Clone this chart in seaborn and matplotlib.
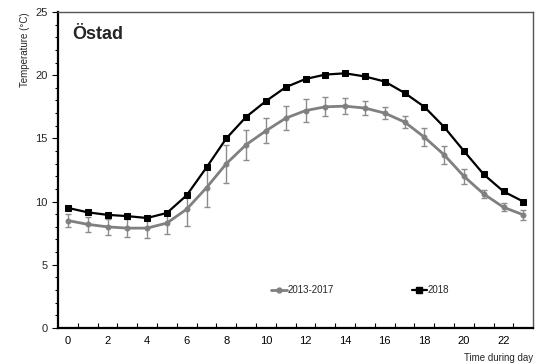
import numpy as np
import pandas as pd
import matplotlib
matplotlib.use("Agg")
import matplotlib.pyplot as plt
import seaborn as sns
from matplotlib.ticker import MultipleLocator, FixedLocator
from matplotlib.lines import Line2D

hours = list(range(24))
mean_2013_2017 = [8.5, 8.2, 8.0, 7.9, 7.9, 8.3, 9.4, 11.1, 13.0, 14.5, 15.6, 16.6,
                  17.2, 17.5, 17.55, 17.4, 17.0, 16.3, 15.1, 13.7, 12.0, 10.6, 9.55, 8.95]
err_2013_2017 = [0.5, 0.6, 0.65, 0.7, 0.75, 0.9, 1.3, 1.5, 1.5, 1.2, 1.0, 0.95,
                 0.9, 0.75, 0.65, 0.55, 0.45, 0.5, 0.7, 0.7, 0.6, 0.3, 0.3, 0.4]
temp_2018 = [9.5, 9.15, 8.95, 8.85, 8.7, 9.1, 10.5, 12.7, 15.0, 16.7, 17.95, 19.05,
             19.7, 20.05, 20.15, 19.9, 19.5, 18.6, 17.5, 15.9, 14.0, 12.15, 10.8, 10.0]
series_labels = ["2013-2017", "2018"]
title = "Östad"

sns.set_style("white")
plt.rcParams['font.family'] = ['Liberation Sans', 'DejaVu Sans']

fig = plt.figure(figsize=(5.37, 3.64), dpi=100)
ax = fig.add_axes([0.108, 0.099, 0.885, 0.868])

ax.errorbar(hours, mean_2013_2017, yerr=err_2013_2017, fmt='none', ecolor='#8c8c8c',
            elinewidth=1.0, capsize=2.5, capthick=1.0, zorder=2)
n_before = len(ax.get_lines())

df_a = pd.DataFrame({"hour": hours, "temp": mean_2013_2017})
df_b = pd.DataFrame({"hour": hours, "temp": temp_2018})
sns.lineplot(data=df_a, x="hour", y="temp", color='#808080', marker='o',
             markersize=3.5, markeredgecolor='#808080', markerfacecolor='#808080',
             linewidth=2.0, ax=ax, zorder=3)
sns.lineplot(data=df_b, x="hour", y="temp", color='#000000', marker='s',
             markersize=4.5, markeredgecolor='#000000', markerfacecolor='#000000',
             linewidth=1.6, ax=ax, zorder=4)

handles = [Line2D([], [], color='#808080', lw=2.0, marker='o', ms=3.5),
           Line2D([], [], color='#000000', lw=1.6, marker='s', ms=4.5)]
ax.legend(handles, series_labels, ncol=2, loc='center', bbox_to_anchor=(0.636, 0.12),
          frameon=False, fontsize=7, handlelength=1.6, handletextpad=0.1,
          columnspacing=8.0)

ax.set_xlim(-0.5, 23.5)
ax.set_ylim(0, 25)
ax.xaxis.set_major_locator(MultipleLocator(2))
ax.xaxis.set_minor_locator(FixedLocator(np.arange(0.5, 23.5, 1.0)))
ax.yaxis.set_major_locator(MultipleLocator(5))
ax.yaxis.set_minor_locator(MultipleLocator(1))
ax.tick_params(axis='x', which='major', length=0, labelsize=8, pad=6, colors='black')
ax.tick_params(axis='x', which='minor', bottom=True, direction='in', length=3.5, width=0.8, color='black')
ax.tick_params(axis='y', which='major', left=True, direction='out', length=4, width=0.8, labelsize=8, color='black')
ax.tick_params(axis='y', which='minor', left=True, direction='out', length=2, width=0.8, color='black')

for side in ['left', 'bottom']:
    ax.spines[side].set_color('black'); ax.spines[side].set_linewidth(1.6)
for side in ['top', 'right']:
    ax.spines[side].set_color('#555555'); ax.spines[side].set_linewidth(1.0)

ax.set_xlabel("Time during day", fontsize=7, loc='right', labelpad=5)
ax.set_ylabel("Temperature (°C)", fontsize=7, loc='top', labelpad=4)
ax.text(0.03, 0.93, title, transform=ax.transAxes, fontsize=13, fontweight='bold',
        va='center', ha='left')

fig.savefig("out.png", dpi=100)
